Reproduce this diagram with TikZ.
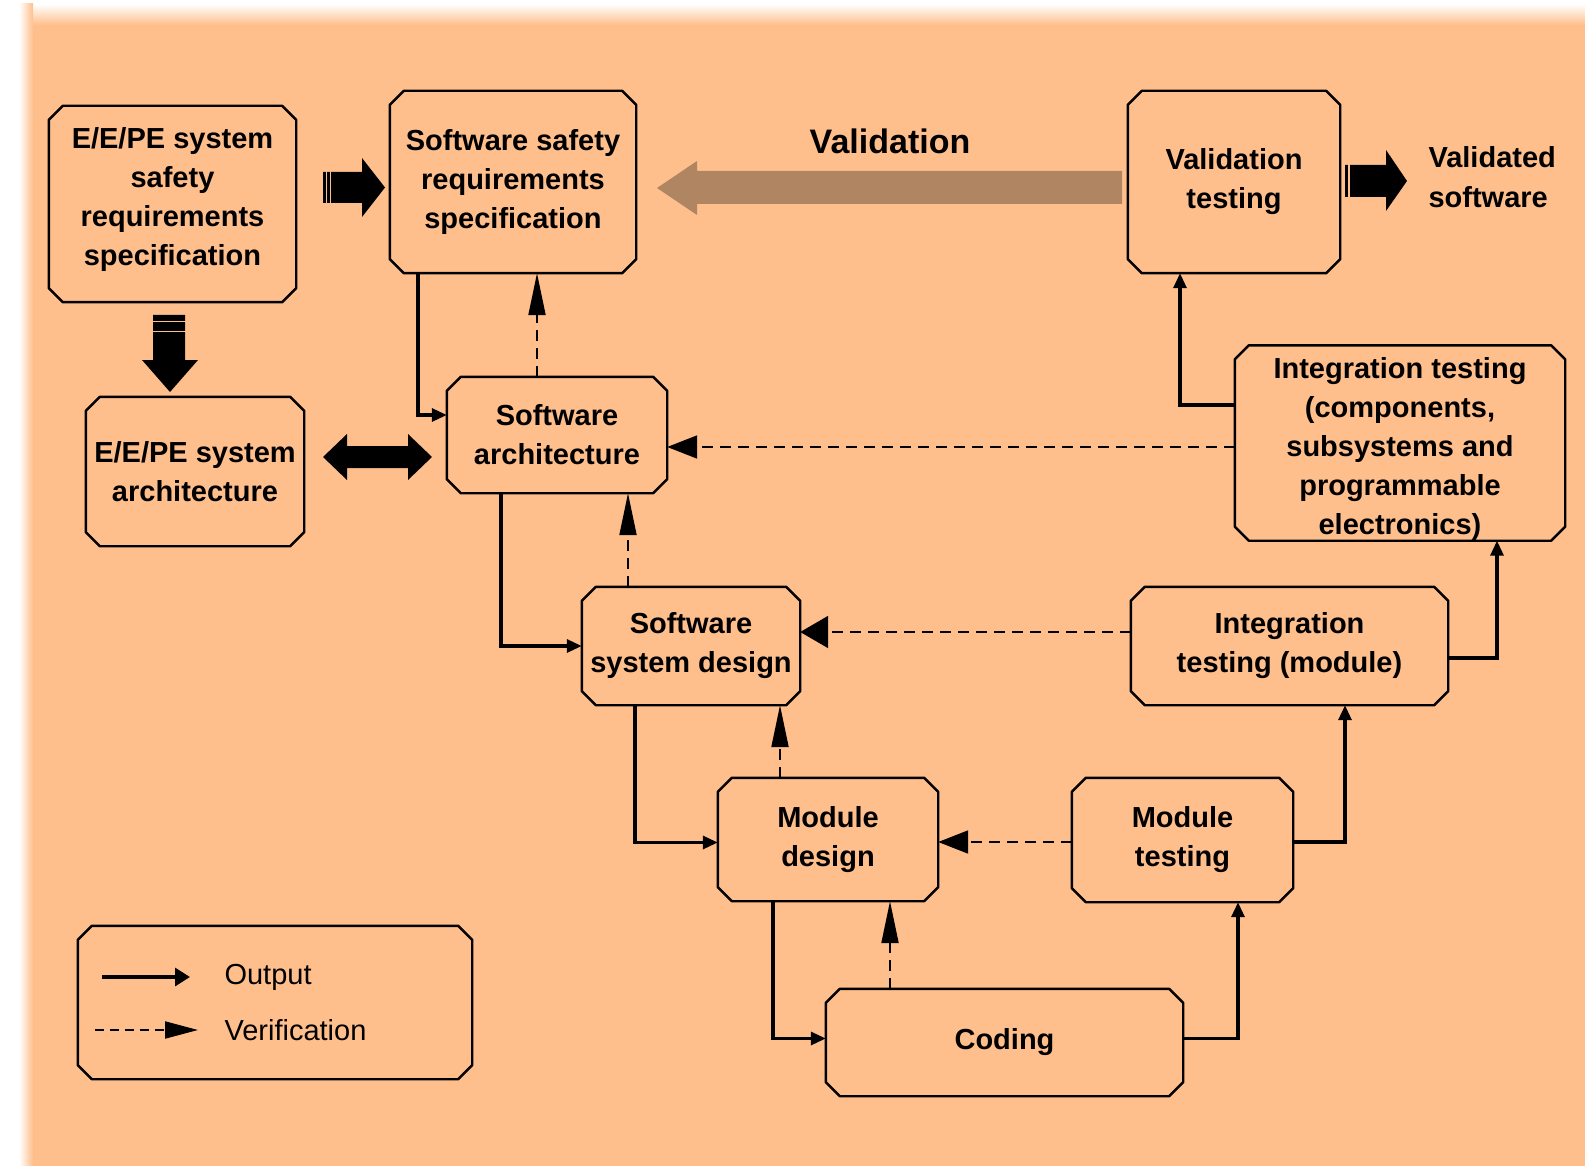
\documentclass[tikz,border=0pt]{standalone}
\usepackage{fontspec}
\setmainfont{Liberation Sans}
\usetikzlibrary{arrows.meta}
\definecolor{peach}{RGB}{255,191,140}
\definecolor{valbrown}{RGB}{176,133,98}

% chamfered outline around a named box
\newcommand\chamf[2][14]{%
  \draw[outline] ([xshift=#1pt]#2.north west) -- ([xshift=-#1pt]#2.north east)
    -- ([yshift=-#1pt]#2.north east) -- ([yshift=#1pt]#2.south east)
    -- ([xshift=-#1pt]#2.south east) -- ([xshift=#1pt]#2.south west)
    -- ([yshift=#1pt]#2.south west) -- ([yshift=-#1pt]#2.north west) -- cycle;}

\begin{document}
\begin{tikzpicture}[x=1pt,y=-1pt,
  box/.style={draw=none, inner sep=0pt, align=center,
    font=\fontsize{29}{39}\selectfont\bfseries},
  outline/.style={line width=2.4pt, line join=round},
  output/.style={line width=3.2pt, -{Triangle[length=15pt,width=13pt]}},
  verify/.style={line width=2pt, dash pattern=on 11pt off 7pt,
    -{Triangle[length=42pt,width=17pt]}},
  verifyh/.style={line width=2pt, dash pattern=on 11pt off 7pt,
    -{Triangle[length=30pt,width=23pt]}},
  stripe/.style={draw=peach, line width=1.2pt},
]
\useasboundingbox (0,0) rectangle (1585,1166);

% page background with soft top and left edges
\fill[white] (0,0) rectangle (1585,1166);
\fill[peach] (33,25) rectangle (1585,1166);
\shade[top color=white, bottom color=peach] (33,4) rectangle (1585,25);
\shade[left color=white, right color=peach] (19,25) rectangle (33,1166);
\shade[left color=white, right color=peach] (19,4) rectangle (33,25);

% process boxes
\node[box, minimum width=247pt, minimum height=196pt] (sysreq) at (172.5,204)
  {\raisebox{5pt}[\height][\depth]{\begin{tabular}{@{}c@{}}E/E/PE system\\safety\\requirements\\specification\end{tabular}}};
\node[box, minimum width=246pt, minimum height=182pt] (swreq) at (513,182)
  {Software safety\\requirements\\specification};
\node[box, minimum width=212pt, minimum height=182pt] (valtest) at (1234,182)
  {Validation\\testing};
\node[box, minimum width=218pt, minimum height=149pt] (sysarch) at (195,471.5)
  {E/E/PE system\\architecture};
\node[box, minimum width=220pt, minimum height=116pt] (swarch) at (557,435)
  {Software\\architecture};
\node[box, minimum width=330pt, minimum height=194pt] (intcomp) at (1400,443)
  {\raisebox{-6pt}[\height][\depth]{\begin{tabular}{@{}c@{}}Integration testing\\(components,\\subsystems and\\programmable\\electronics)\end{tabular}}};
\node[box, minimum width=218pt, minimum height=118pt] (swsys) at (691,646)
  {Software\\system design};
\node[box, minimum width=317pt, minimum height=118pt] (intmod) at (1289.5,646)
  {Integration\\testing (module)};
\node[box, minimum width=220pt, minimum height=123pt] (moddes) at (828,839.5)
  {Module\\design};
\node[box, minimum width=221pt, minimum height=124pt] (modtest) at (1182.5,840)
  {Module\\testing};
\node[box, minimum width=357pt, minimum height=107pt] (coding) at (1004.5,1042.5)
  {Coding};
\node[box, minimum width=394pt, minimum height=153pt] (legend) at (275,1002.5) {};

\foreach \b in {sysreq,swreq,valtest,sysarch,swarch,intcomp,swsys,intmod,moddes,modtest,coding,legend}
  {\chamf{\b}}

% free labels
\node[font=\fontsize{34}{40}\selectfont\bfseries] (vallabel) at (890,141) {Validation};
\node[anchor=west, align=left, font=\fontsize{29}{40}\selectfont\bfseries] (validated)
  at (1425,177) {Validated\\software};

% heavy block arrows
\fill (323,172) -- (362,172) -- (362,158) -- (385,187.5) -- (362,217) -- (362,203) -- (323,203) -- cycle;
\draw[stripe] (326.7,170) -- (326.7,205) (330.7,170) -- (330.7,205);
\fill (153,315) -- (185,315) -- (185,360) -- (198,360) -- (170,392) -- (142,360) -- (153,360) -- cycle;
\draw[stripe] (151,321.5) -- (187,321.5) (151,331.5) -- (187,331.5);
\fill (323,457) -- (347,434) -- (347,446) -- (408,446) -- (408,434) -- (432,457)
  -- (408,480) -- (408,468) -- (347,468) -- (347,480) -- cycle;
\fill[valbrown] (1122,171) -- (697,171) -- (697,161) -- (657,188) -- (697,215) -- (697,204) -- (1122,204) -- cycle;
\fill (1345,165) -- (1386,165) -- (1386,150) -- (1407,181) -- (1386,211) -- (1386,197) -- (1345,197) -- cycle;
\draw[stripe] (1349,163) -- (1349,199);

% output connectors
\draw[output] ([xshift=-95pt]swreq.south) |- ([yshift=20pt]swarch.west);
\draw[output] ([xshift=-56pt]swarch.south) |- (swsys.west);
\draw[output] ([xshift=-56pt]swsys.south) |- ([yshift=-3pt]moddes.west);
\draw[output] ([xshift=-55pt]moddes.south) |- ([yshift=4pt]coding.west);
\draw[output] ([yshift=4pt]coding.east) -| ([xshift=55.5pt]modtest.south);
\draw[output] ([yshift=-2pt]modtest.east) -| ([xshift=55.5pt]intmod.south);
\draw[output] ([yshift=-12pt]intmod.east) -| ([xshift=97pt]intcomp.south);
\draw[output] ([yshift=38pt]intcomp.west) -| ([xshift=-54pt]valtest.south);

% verification connectors
\draw[verify] ([xshift=-20pt]swarch.north) -- ([xshift=-20pt]swarch.north |- swreq.south);
\draw[verifyh] ([yshift=-4pt]intcomp.west) -- ([yshift=-4pt]intcomp.west -| swarch.east);
\draw[verify] ([xshift=-63pt]swsys.north) -- ([xshift=-63pt]swsys.north |- swarch.south);
\draw[line width=2pt, dash pattern=on 11pt off 7pt, -{Triangle[length=28pt,width=32pt]}]
  ([yshift=14pt]intmod.west) -- ([yshift=14pt]intmod.west -| swsys.east);
\draw[verify] ([xshift=-48pt]moddes.north) -- ([xshift=-48pt]moddes.north |- swsys.south);
\draw[verifyh] ([yshift=-2pt]modtest.west) -- ([yshift=-2pt]modtest.west -| moddes.east);
\draw[verify] ([xshift=-114.5pt]coding.north) -- ([xshift=-114.5pt]coding.north |- moddes.south);

% legend
\coordinate (o1) at (102,977);
\coordinate (o2) at (190,977);
\coordinate (v1) at (95,1030);
\coordinate (v2) at (198,1030);
\draw[line width=3.2pt, -{Triangle[length=15pt,width=18pt]}] (o1) -- (o2);
\draw[line width=2pt, dash pattern=on 9pt off 6pt, -{Triangle[length=33pt,width=17pt]}] (v1) -- (v2);
\node[anchor=west, font=\fontsize{29}{35}\selectfont] (outtxt) at (221,977) {Output};
\node[anchor=west, font=\fontsize{29}{35}\selectfont] (vertxt) at (221,1030) {Verification};
\end{tikzpicture}
\end{document}
